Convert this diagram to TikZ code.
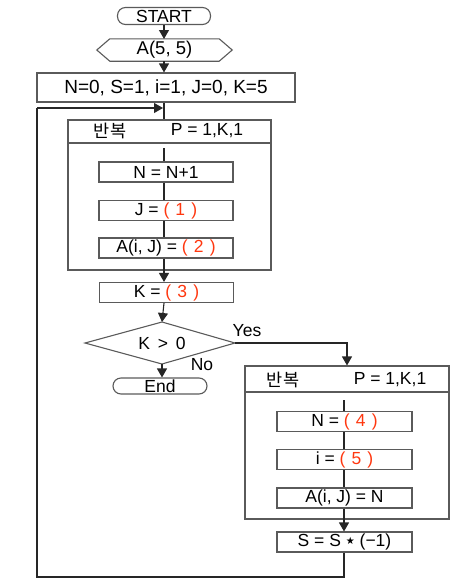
\documentclass[tikz,border=0pt]{standalone}
\usepackage{fontspec}
\setmainfont{Liberation Sans}
\newfontfamily\kr{Noto Sans CJK KR}
\newfontfamily\dv{DejaVu Sans}
\usetikzlibrary{arrows.meta}
\definecolor{ans}{RGB}{255,55,15}
\definecolor{edge}{RGB}{90,90,90}
\newcommand{\blank}[1]{\textcolor{ans}{(\hspace{0.35em}#1\hspace{0.35em})}}
\begin{document}
\begin{tikzpicture}[x=1pt,y=-1pt,
  font=\fontsize{17.5}{19}\selectfont,
  box/.style={draw=edge,line width=1.1pt,rectangle,inner sep=0pt,minimum width=134pt,minimum height=20pt},
  term/.style={draw=edge,line width=1.1pt,rectangle,rounded corners=8pt,inner sep=0pt,minimum height=17pt},
  conn/.style={draw=black!85,line width=1.1pt},
  arr/.style={conn,-{Triangle[length=9pt,width=10pt]}}]
\useasboundingbox (0,0) rectangle (459,584);

% top part
\node[term,minimum width=93pt] (start) at (164,16) {START};
\node[rectangle,inner sep=0pt,minimum width=135pt,minimum height=22pt,font=\fontsize{18.5}{20}\selectfont] (hex) at (164.5,50) {A(5, 5)};
\draw[draw=edge,line width=1.1pt] (hex.west) -- ([xshift=13pt]hex.north west) -- ([xshift=-13pt]hex.north east) -- (hex.east) -- ([xshift=-13pt]hex.south east) -- ([xshift=13pt]hex.south west) -- cycle;
\node[box,minimum width=258pt,minimum height=29pt,font=\fontsize{19}{21}\selectfont] (init) at (166,87.5) {N=0, S=1, i=1, J=0, K=5};

\draw[arr] (start.south -| 164,0) -- (164,39);
\draw[arr] (164,61) -- (init.north -| 164,0);

% loop 1
\node[draw=edge,line width=1.1pt,rectangle,inner sep=0pt,minimum width=203pt,minimum height=150pt] (loopa) at (169.5,195) {};
\draw[draw=edge,line width=1.1pt] (loopa.west |- 0,143) -- (loopa.east |- 0,143);
\node (loopaKr) at (110,131) {\kr 반복};
\node (loopaP) at (207,131) {P = 1,K,1};
\draw[conn] (init.south -| 164,0) -- (loopa.north -| 164,0);

\node[box] (n1) at (166,172) {N = N+1};
\node[box] (j1) at (166,210.5) {J = \blank{1}};
\node[box] (a1) at (166,248) {A(i, J) = \blank{2}};
\node[box] (k1) at (166.5,292.5) {K = \blank{3}};
\coordinate (la) at (164,148);
\draw[conn] (la) -- (n1.north -| la);
\draw[conn] (n1.south -| la) -- (j1.north -| la);
\draw[conn] (j1.south -| la) -- (a1.north -| la);
\draw[arr] (a1.south -| la) -- (k1.north -| la);

% decision
\draw[draw=edge,line width=1.1pt] (85,343) coordinate (dW) -- (162,322) coordinate (dN) -- (235,343) coordinate (dE) -- (162,364) coordinate (dS) -- cycle;
\node (dtxt) at (162,343) {K \,>\, 0};
\draw[arr] (k1.south -| la) -- (dN);
\node[term,minimum width=94pt,minimum height=16pt] (end) at (160,386) {End};
\draw[arr] (dS) -- (dS |- end.north);
\node (yes) at (247,331) {Yes};
\node (no) at (202,365) {No};

% loop 2
\node[draw=edge,line width=1.1pt,rectangle,inner sep=0pt,minimum width=204pt,minimum height=153pt] (loopb) at (347,442.5) {};
\draw[draw=edge,line width=1.1pt] (loopb.west |- 0,392) -- (loopb.east |- 0,392);
\node (loopbKr) at (283,380) {\kr 반복};
\node (loopbP) at (390,380) {P = 1,K,1};
\draw[arr] (dE) -| (loopb.north);

\coordinate (lb) at (344,400);
\node[box,minimum width=135pt] (n2) at (344.5,421.5) {N = \blank{4}};
\node[box,minimum width=135pt] (i2) at (344.5,459.5) {i = \blank{5}};
\node[box,minimum width=135pt] (a2) at (344.5,498) {A(i, J) = N};
\node[box,minimum width=135pt] (s2) at (344.5,542) {S = S {\dv\fontsize{10}{10}\selectfont\raisebox{2pt}{★}} (−1)};
\draw[conn] (lb) -- (n2.north -| lb);
\draw[conn] (n2.south -| lb) -- (i2.north -| lb);
\draw[conn] (i2.south -| lb) -- (a2.north -| lb);
\draw[arr] (a2.south -| lb) -- (s2.north -| lb);

% feedback
\coordinate (fb1) at (344,577);
\coordinate (fb2) at (37,577);
\coordinate (fb3) at (37,108);
\coordinate (fb4) at (163,108);
\draw[conn] (s2.south -| lb) -- (fb1) -- (fb2) -- (fb3);
\draw[arr] (fb3) -- (fb4);
\end{tikzpicture}
\end{document}
